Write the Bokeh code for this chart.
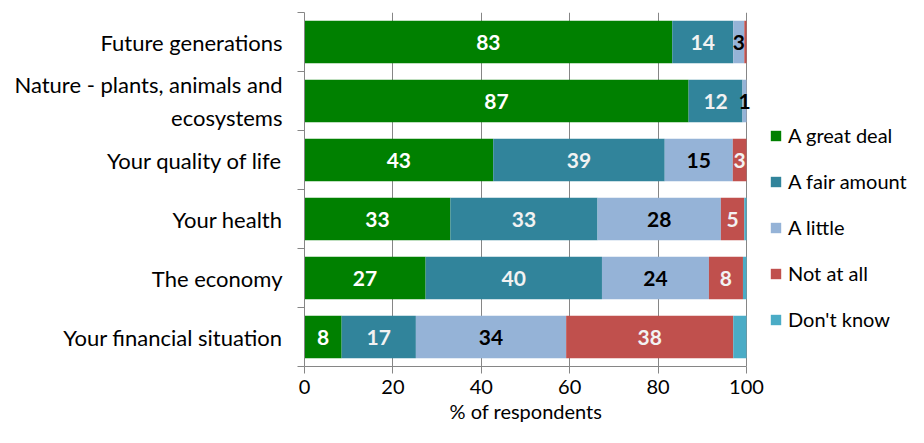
from bokeh.plotting import figure
from bokeh.models import (ColumnDataSource, Range1d, FixedTicker, Legend, LegendItem, Title)
from bokeh.core.properties import value
from bokeh.embed import file_html
from bokeh.resources import INLINE

# ---- data (top to bottom) ----
categories = ["Future generations",
              "Nature - plants, animals and\necosystems",
              "Your quality of life",
              "Your health",
              "The economy",
              "Your financial situation"]
great_deal = [83.2, 86.9, 42.7, 33.0, 27.4, 8.4]
fair_amount = [13.8, 12.2, 38.8, 33.3, 39.9, 16.8]
a_little = [2.5, 0.9, 15.4, 27.9, 24.2, 34.0]
not_at_all = [0.5, 0.0, 3.1, 5.3, 7.7, 37.8]
dont_know = [0.0, 0.0, 0.0, 0.5, 0.8, 3.0]

great_deal_labels = ["83", "87", "43", "33", "27", "8"]
fair_amount_labels = ["14", "12", "39", "33", "40", "17"]
a_little_labels = ["3", "1", "15", "28", "24", "34"]
not_at_all_labels = ["", "", "3", "5", "8", "38"]
dont_know_labels = ["", "", "", "", "", ""]

series_names = ["A great deal", "A fair amount", "A little", "Not at all", "Don't know"]
x_ticks = [0, 20, 40, 60, 80, 100]
x_title = "% of respondents"

colors = ["#008000", "#31849B", "#95B3D7", "#C0504D", "#4BACC6"]
label_colors = ["#FFFFFF", "#F2F2F2", "#000000", "#F2F2F2", "#000000"]
FONT = "Lato"

n = len(categories)
ypos = [n - 0.5 - i for i in range(n)]
series = [great_deal, fair_amount, a_little, not_at_all, dont_know]
labels = [great_deal_labels, fair_amount_labels, a_little_labels,
          not_at_all_labels, dont_know_labels]
keys = ["s%d" % i for i in range(len(series))]

data = {"y": ypos}
for k, s in zip(keys, series):
    data[k] = s
src = ColumnDataSource(data)

W, H = 908, 427
LEFT, TOP, BOTTOM = 304, 12, 61
PLOT_W = 442  # pixels for 0..100
FRAME_W = W - LEFT
x_max = 100.0 * FRAME_W / PLOT_W  # extra room on the right for the legend

p = figure(width=W, height=H, output_backend="svg", toolbar_location=None,
           x_range=Range1d(0, x_max), y_range=Range1d(0, n),
           min_border_left=LEFT, min_border_right=0,
           min_border_top=TOP, min_border_bottom=BOTTOM)
p.outline_line_color = None
p.background_fill_color = "white"

renderers = p.hbar_stack(keys, y="y", height=0.72, color=colors, source=src,
                         line_color=None)

# labels
for i, (s, lab) in enumerate(zip(series, labels)):
    xs, ys, ts = [], [], []
    for j in range(n):
        if lab[j]:
            left = sum(series[k][j] for k in range(i))
            xs.append(left + s[j] / 2.0)
            ys.append(ypos[j])
            ts.append(lab[j])
    if xs:
        p.text(x=xs, y=ys, text=ts, text_align="center", text_baseline="middle",
               text_font=value(FONT), text_font_style="bold",
               text_font_size="21px", text_color=label_colors[i])

# legend
items = [LegendItem(label=name, renderers=[r]) for name, r in zip(series_names, renderers)]
legend = Legend(items=items, location=(465, 35), orientation="vertical",
                glyph_width=13, glyph_height=13, label_height=20, spacing=22,
                label_standoff=6, padding=0, margin=0,
                border_line_alpha=0, background_fill_alpha=0,
                label_text_font=FONT, label_text_font_size="20px",
                label_text_color="#000000")
p.add_layout(legend, "center")

# x axis
xa = p.xaxis[0]
xa.ticker = FixedTicker(ticks=x_ticks, minor_ticks=[])
xa.bounds = (0, 100)
xa.major_label_text_font = FONT
xa.major_label_text_font_size = "20px"
xa.major_label_text_color = "#000000"
xa.major_label_standoff = 6
xa.axis_line_color = "#868686"
xa.major_tick_line_color = "#868686"
xa.major_tick_in = 0
xa.major_tick_out = 7

# x-axis title centred under the 0..100 span
t = Title(text=x_title, align="left", offset=PLOT_W / 2.0 - 76,
          text_font=FONT, text_font_size="20px", text_font_style="normal",
          text_color="#000000", standoff=0)
p.add_layout(t, "below")

# y axis: labels at centres, ticks at boundaries
ya = p.yaxis[0]
ya.ticker = FixedTicker(ticks=ypos, minor_ticks=list(range(n + 1)))
ya.major_label_overrides = {y: c for y, c in zip(ypos, categories)}
ya.major_label_text_font = FONT
ya.major_label_text_font_size = "22px"
ya.major_label_text_color = "#000000"
ya.major_label_standoff = 15
ya.axis_line_color = "#868686"
ya.major_tick_line_color = None
ya.major_tick_in = 0
ya.major_tick_out = 0
ya.minor_tick_line_color = "#868686"
ya.minor_tick_in = 0
ya.minor_tick_out = 7

p.xgrid.ticker = FixedTicker(ticks=x_ticks)
p.xgrid.grid_line_color = "#868686"
p.ygrid.grid_line_color = None

open("out.html", "w").write(file_html(p, INLINE))
